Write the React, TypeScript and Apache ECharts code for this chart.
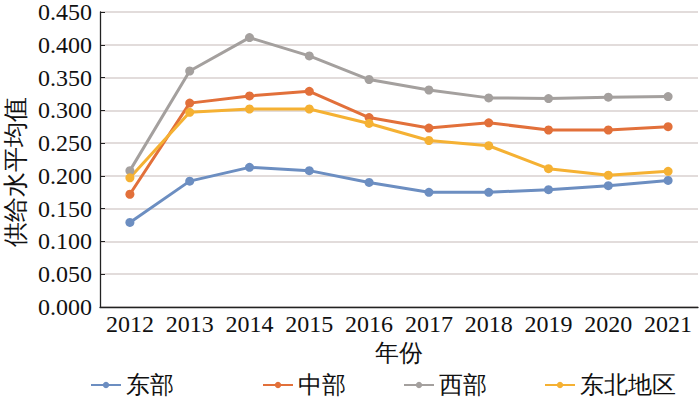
import React, { useEffect, useRef } from "react";
import * as echarts from "echarts";

const years = ["2012", "2013", "2014", "2015", "2016", "2017", "2018", "2019", "2020", "2021"];
const east = [0.129, 0.192, 0.213, 0.208, 0.190, 0.175, 0.175, 0.179, 0.185, 0.193];
const central = [0.172, 0.311, 0.322, 0.329, 0.289, 0.273, 0.281, 0.270, 0.270, 0.275];
const west = [0.208, 0.360, 0.411, 0.383, 0.347, 0.331, 0.319, 0.318, 0.320, 0.321];
const northeast = [0.197, 0.297, 0.302, 0.302, 0.280, 0.254, 0.246, 0.211, 0.201, 0.207];
const seriesNames = ["东部", "中部", "西部", "东北地区"];
const colors = ["#6C8EC1", "#E2703A", "#A4A09E", "#F5B133"];
const yAxisTitle = "供给水平均值";
const xAxisTitle = "年份";

const FONT = '"Liberation Serif", "DejaVu Serif", serif';

export default function App() {
  const ref = useRef<HTMLDivElement>(null);
  useEffect(() => {
    if (!ref.current) return;
    const chart = echarts.init(ref.current, undefined, { renderer: "svg" });
    const data = [east, central, west, northeast];
    const legendText = { fontFamily: FONT, fontSize: 24, color: "#111" };
    chart.setOption({
      animation: false,
      textStyle: { fontFamily: FONT },
      grid: { left: 100, right: 2, top: 8.3, bottom: 92, containLabel: false },
      legend: [
        {
          data: [seriesNames[0]],
          left: 90,
          top: 373,
          itemWidth: 30,
          itemHeight: 8,
          itemGap: 57,
          textStyle: legendText,
          padding: 0,
        },
        {
          data: seriesNames.slice(1),
          left: 262,
          top: 373,
          itemWidth: 30,
          itemHeight: 8,
          itemGap: 57,
          textStyle: legendText,
          padding: 0,
        },
      ],
      xAxis: {
        type: "category",
        data: years,
        boundaryGap: true,
        name: xAxisTitle,
        nameLocation: "middle",
        nameGap: 33,
        nameTextStyle: { fontFamily: FONT, fontSize: 24, color: "#111", verticalAlign: "top" },
        axisLine: { lineStyle: { color: "#222", width: 1.3 } },
        axisTick: { inside: true, length: 5, lineStyle: { color: "#222" } },
        axisLabel: { fontFamily: FONT, fontSize: 24, color: "#111", margin: 5, interval: 0 },
      },
      yAxis: {
        type: "value",
        min: 0,
        max: 0.45,
        interval: 0.05,
        axisLine: { show: true, lineStyle: { color: "#222", width: 1.3 } },
        axisTick: { show: true, inside: true, length: 5, lineStyle: { color: "#222" } },
        axisLabel: {
          fontFamily: FONT,
          fontSize: 24,
          color: "#111",
          margin: 8,
          formatter: (v: number) => v.toFixed(3),
        },
        splitLine: { lineStyle: { color: "#D8D0CF", width: 1.5 } },
      },
      graphic: [
        {
          type: "text",
          x: 15,
          y: 172,
          rotation: Math.PI / 2,
          style: {
            text: yAxisTitle,
            fontFamily: FONT,
            fontSize: 25,
            fill: "#111",
            align: "center",
            verticalAlign: "middle",
          },
        },
      ],
      series: seriesNames.map((name, i) => ({
        name,
        type: "line",
        data: data[i],
        color: colors[i],
        symbol: "circle",
        symbolSize: 9,
        lineStyle: { width: 3, color: colors[i] },
        itemStyle: { color: colors[i] },
      })),
    });
    return () => chart.dispose();
  }, []);
  return <div ref={ref} style={{ width: 700, height: 399, position: "absolute", left: 0, top: 0 }} />;
}
